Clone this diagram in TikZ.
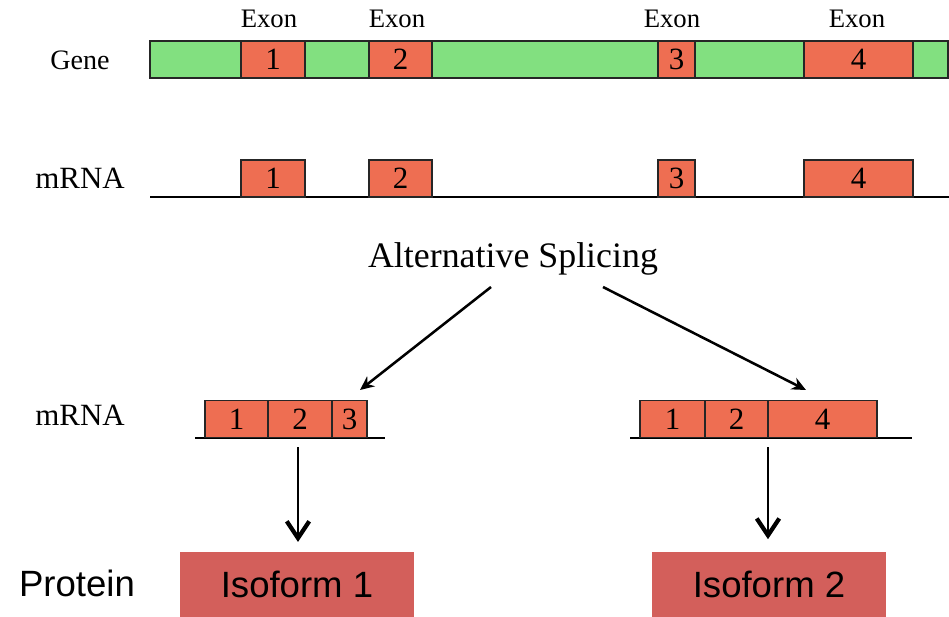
\documentclass[tikz,border=0pt]{standalone}
\usepackage{fontspec}
\setmainfont{Liberation Serif}
\newfontfamily\arial{Liberation Sans}
\usetikzlibrary{arrows.meta}
\usetikzlibrary{calc}

\definecolor{intron}{RGB}{130,224,128}
\definecolor{exon}{RGB}{238,110,82}
\definecolor{iso}{RGB}{211,95,91}

\tikzset{
  exonbox/.style={draw=black!85,line width=1.2pt,fill=exon,inner sep=0pt,
    minimum height=0.925cm,font=\fontsize{22}{22}\selectfont},
  isobox/.style={fill=iso,inner sep=0pt,minimum width=5.85cm,minimum height=1.62cm,
    font=\arial\fontsize{26}{26}\selectfont},
  lbl/.style={font=\fontsize{20}{20}\selectfont},
  splicearrow/.style={-{Stealth[length=10pt,width=9pt]},line width=1.8pt},
  downarrow/.style={-{Straight Barb[length=12pt,width=16pt,line width=3pt]},line width=1pt}
}

\begin{document}
\begin{tikzpicture}[x=0.025cm,y=-0.025cm]
  \useasboundingbox (0,0) rectangle (949,617);

  %gene row
  \node[lbl] (gene) at (80,60) {Gene};
  \draw[black!85,line width=1.2pt,fill=intron] (150,41) rectangle (948,78);
  \foreach \n/\xa/\xb/\xl in {1/241/305/269,2/369/432/397,3/658/695/672,4/804/913/857}{
     \node[exonbox,minimum width={(\xb-\xa)*0.025cm}] (e\n) at ({(\xa+\xb)/2},59.5) {\n};
     \node[font=\fontsize{19}{19}\selectfont] (x\n) at (\xl,19) {Exon};
  }

  %mRNA row
  \node[lbl,font=\fontsize{22}{22}\selectfont] (mrna) at (80,178) {mRNA};
  \draw[line width=1pt] (150,197) -- (949,197);
  \foreach \n/\xa/\xb in {1/241/305,2/369/432,3/658/695,4/804/913}{
     \node[exonbox,minimum width={(\xb-\xa)*0.025cm}] (m\n) at ({(\xa+\xb)/2},178.5) {\n};
  }

  %splicing
  \node[font=\fontsize{25.5}{25.5}\selectfont] (splice) at (513,259) {Alternative Splicing};
  \coordinate (sL) at (491,287);
  \coordinate (sR) at (603,287);
  \coordinate (tL) at (360,390);
  \coordinate (tR) at (806,390);
  \draw[splicearrow] (sL) -- (tL);
  \draw[splicearrow] (sR) -- (tR);

  %spliced mRNAs
  \node[lbl,font=\fontsize{22}{22}\selectfont] (mrnb) at (80,415) {mRNA};
  \draw[line width=1pt] (195,438) -- (385,438);
  \draw[line width=1pt] (630,438) -- (912,438);
  \foreach \n/\xa/\xb in {1/205/268,2/268/332,3/332/367}{
     \node[exonbox,minimum width={(\xb-\xa)*0.025cm}] (a\n) at ({(\xa+\xb)/2},419) {\n};
  }
  \foreach \n/\xa/\xb in {1/640/705,2/705/768,4/768/877}{
     \node[exonbox,minimum width={(\xb-\xa)*0.025cm}] (b\n) at ({(\xa+\xb)/2},419) {\n};
  }

  %proteins
  \node[font=\arial\fontsize{26}{26}\selectfont] (protein) at (77,583) {Protein};
  \node[isobox] (iso1) at (297,584.5) {Isoform 1};
  \node[isobox] (iso2) at (769,584.5) {Isoform 2};
  \coordinate (dL) at (298,447);
  \coordinate (dR) at (768,447);
  \draw[downarrow,shorten >=7pt] (dL) -- (dL |- iso1.north);
  \draw[downarrow,shorten >=9pt] (dR) -- (dR |- iso2.north);

\end{tikzpicture}
\end{document}
